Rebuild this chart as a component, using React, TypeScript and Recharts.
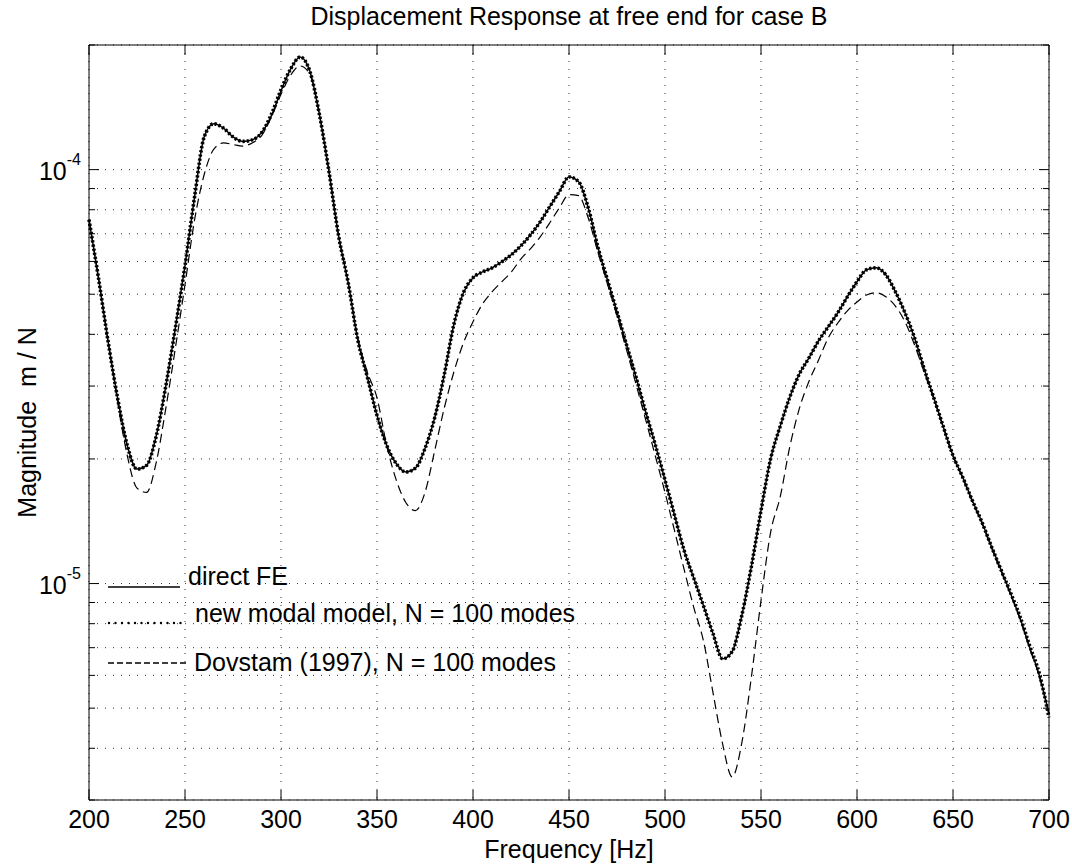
import { CartesianGrid, Legend, Line, LineChart, XAxis, YAxis } from 'recharts';

// frequency grid [Hz]
const freq = [
  200, 205, 210, 215, 220, 225, 230, 235, 240, 245, 250, 255, 260, 265, 270, 275, 280, 285, 290, 295,
  300, 305, 310, 315, 320, 325, 330, 335, 340, 345, 350, 355, 360, 365, 370, 375, 380, 385, 390, 395,
  400, 405, 410, 415, 420, 425, 430, 435, 440, 445, 450, 455, 460, 465, 470, 475, 480, 485, 490, 495,
  500, 505, 510, 515, 520, 525, 530, 535, 540, 545, 550, 555, 560, 565, 570, 575, 580, 585, 590, 595,
  600, 605, 610, 615, 620, 625, 630, 635, 640, 645, 650, 655, 660, 665, 670, 675, 680, 685, 690, 695,
  700,
];

// magnitude [m/N]
const directFE = [
  7.57e-5, 5.45e-5, 3.83e-5, 2.79e-5, 2.15e-5, 1.89e-5, 1.93e-5, 2.27e-5, 3.0e-5, 4.15e-5,
  5.86e-5, 8.6e-5, 1.2e-4, 1.29e-4, 1.26e-4, 1.2e-4, 1.17e-4, 1.18e-4, 1.23e-4, 1.35e-4,
  1.55e-4, 1.75e-4, 1.87e-4, 1.73e-4, 1.36e-4, 9.89e-5, 6.92e-5, 5.33e-5, 3.88e-5, 3.15e-5,
  2.55e-5, 2.16e-5, 1.95e-5, 1.86e-5, 1.9e-5, 2.12e-5, 2.51e-5, 3.19e-5, 4.22e-5, 5.04e-5,
  5.48e-5, 5.66e-5, 5.79e-5, 5.99e-5, 6.23e-5, 6.55e-5, 6.96e-5, 7.48e-5, 8.14e-5, 8.85e-5,
  9.6e-5, 9.35e-5, 8.09e-5, 6.51e-5, 5.42e-5, 4.53e-5, 3.77e-5, 3.14e-5, 2.59e-5, 2.16e-5,
  1.78e-5, 1.46e-5, 1.2e-5, 1.03e-5, 8.85e-6, 7.57e-6, 6.58e-6, 6.85e-6, 8.37e-6, 1.1e-5,
  1.5e-5, 2.0e-5, 2.4e-5, 2.82e-5, 3.21e-5, 3.51e-5, 3.86e-5, 4.17e-5, 4.51e-5, 4.93e-5,
  5.36e-5, 5.73e-5, 5.79e-5, 5.57e-5, 5.07e-5, 4.51e-5, 3.92e-5, 3.3e-5, 2.81e-5, 2.39e-5,
  2.04e-5, 1.81e-5, 1.59e-5, 1.41e-5, 1.23e-5, 1.08e-5, 9.46e-6, 8.23e-6, 7.0e-6, 5.99e-6,
  4.85e-6,
];

const modalModel = [
  7.57e-5, 5.45e-5, 3.83e-5, 2.79e-5, 2.15e-5, 1.89e-5, 1.93e-5, 2.27e-5, 3.0e-5, 4.15e-5,
  5.86e-5, 8.6e-5, 1.2e-4, 1.29e-4, 1.26e-4, 1.2e-4, 1.17e-4, 1.18e-4, 1.23e-4, 1.36e-4,
  1.56e-4, 1.75e-4, 1.87e-4, 1.73e-4, 1.36e-4, 9.89e-5, 6.92e-5, 5.33e-5, 3.88e-5, 3.15e-5,
  2.55e-5, 2.16e-5, 1.95e-5, 1.86e-5, 1.9e-5, 2.12e-5, 2.51e-5, 3.19e-5, 4.22e-5, 5.04e-5,
  5.48e-5, 5.66e-5, 5.79e-5, 5.99e-5, 6.23e-5, 6.55e-5, 6.96e-5, 7.48e-5, 8.14e-5, 8.85e-5,
  9.6e-5, 9.35e-5, 8.09e-5, 6.51e-5, 5.42e-5, 4.53e-5, 3.77e-5, 3.14e-5, 2.59e-5, 2.16e-5,
  1.78e-5, 1.46e-5, 1.2e-5, 1.03e-5, 8.85e-6, 7.57e-6, 6.58e-6, 6.85e-6, 8.37e-6, 1.1e-5,
  1.5e-5, 2.0e-5, 2.4e-5, 2.82e-5, 3.21e-5, 3.51e-5, 3.86e-5, 4.17e-5, 4.51e-5, 4.93e-5,
  5.36e-5, 5.73e-5, 5.79e-5, 5.57e-5, 5.07e-5, 4.51e-5, 3.92e-5, 3.3e-5, 2.81e-5, 2.39e-5,
  2.04e-5, 1.81e-5, 1.59e-5, 1.41e-5, 1.23e-5, 1.08e-5, 9.5e-6, 8.3e-6, 7.06e-6, 6.05e-6,
  4.75e-6,
];

const dovstam = [
  7.57e-5, 5.45e-5, 3.83e-5, 2.73e-5, 2.03e-5, 1.7e-5, 1.66e-5, 1.96e-5, 2.65e-5, 3.71e-5,
  5.27e-5, 7.57e-5, 9.73e-5, 1.12e-4, 1.16e-4, 1.15e-4, 1.14e-4, 1.16e-4, 1.21e-4, 1.34e-4,
  1.52e-4, 1.69e-4, 1.78e-4, 1.7e-4, 1.36e-4, 9.89e-5, 6.92e-5, 5.33e-5, 3.92e-5, 3.24e-5,
  2.81e-5, 2.16e-5, 1.78e-5, 1.57e-5, 1.5e-5, 1.66e-5, 2.09e-5, 2.65e-5, 3.24e-5, 3.81e-5,
  4.29e-5, 4.74e-5, 5.07e-5, 5.36e-5, 5.66e-5, 6.09e-5, 6.44e-5, 6.88e-5, 7.44e-5, 8.09e-5,
  8.7e-5, 8.65e-5, 7.65e-5, 6.33e-5, 5.3e-5, 4.43e-5, 3.67e-5, 3.02e-5, 2.48e-5, 2.03e-5,
  1.66e-5, 1.34e-5, 1.08e-5, 8.75e-6, 7.28e-6, 5.45e-6, 4.1e-6, 3.41e-6, 4.12e-6, 5.95e-6,
  9.1e-6, 1.33e-5, 1.62e-5, 2.14e-5, 2.65e-5, 3.08e-5, 3.47e-5, 3.92e-5, 4.26e-5, 4.56e-5,
  4.79e-5, 4.98e-5, 5.04e-5, 4.93e-5, 4.68e-5, 4.29e-5, 3.77e-5, 3.24e-5, 2.79e-5, 2.38e-5,
  2.03e-5, 1.8e-5, 1.58e-5, 1.4e-5, 1.22e-5, 1.07e-5, 9.4e-6, 8.18e-6, 6.96e-6, 5.95e-6,
  4.82e-6,
];

const xTicks = [200, 250, 300, 350, 400, 450, 500, 550, 600, 650, 700];
const yTicks = [
  3e-6, 4e-6, 5e-6, 6e-6, 7e-6, 8e-6, 9e-6, 1e-5, 2e-5, 3e-5, 4e-5, 5e-5, 6e-5, 7e-5, 8e-5,
  9e-5, 1e-4, 2e-4,
];

const seriesNames = ['direct FE', 'new modal model, N = 100 modes', 'Dovstam (1997), N = 100 modes'];

const FONT = '"Liberation Sans", Arial, Helvetica, sans-serif';
const DOTTED = '2.2 2';
const DASHED = '9 5';

const data = freq.map((f, i) => ({
  f,
  fe: directFE[i],
  modal: modalModel[i],
  dov: dovstam[i],
}));

const isDecade = (v: number) => Math.abs(Math.log10(v) - Math.round(Math.log10(v))) < 1e-6;

function BottomTick({ x, y, payload }: any) {
  return (
    <g>
      <line x1={x} x2={x} y1={y} y2={y - 10} stroke="#000" />
      <text x={x} y={y + 28} textAnchor="middle" fontSize={25} fontFamily={FONT} fill="#000">
        {payload.value}
      </text>
    </g>
  );
}

function TopTick({ x, y }: any) {
  return <line x1={x} x2={x} y1={y} y2={y + 10} stroke="#000" />;
}

function LeftTick({ x, y, payload }: any) {
  const major = isDecade(payload.value);
  const exp = Math.round(Math.log10(payload.value));
  return (
    <g>
      <line x1={x} x2={x + (major ? 10 : 6)} y1={y} y2={y} stroke="#000" />
      {major && (
        <text x={x - 8} y={y + 10} textAnchor="end" fontSize={25} fontFamily={FONT} fill="#000">
          10
          <tspan dy={-15} fontSize={16}>
            {exp}
          </tspan>
        </text>
      )}
    </g>
  );
}

function RightTick({ x, y, payload }: any) {
  const major = isDecade(payload.value);
  return <line x1={x} x2={x - (major ? 10 : 6)} y1={y} y2={y} stroke="#000" />;
}

function LegendBox() {
  const txt = { fontSize: 25, fontFamily: FONT, fill: '#000' };
  return (
    <svg width={560} height={140} style={{ display: 'block', overflow: 'visible' }}>
      <line x1={8} x2={80} y1={32} y2={32} stroke="#000" strokeWidth={1.3} />
      <text x={88} y={30} {...txt}>{seriesNames[0]}</text>
      <line x1={9} x2={87} y1={68} y2={68} stroke="#000" strokeWidth={2.4} strokeDasharray="0 6.5" strokeLinecap="round" />
      <text x={95} y={67} {...txt}>{seriesNames[1]}</text>
      <line x1={8} x2={88} y1={108} y2={108} stroke="#000" strokeWidth={1.3} strokeDasharray="6 3" />
      <text x={94} y={116} {...txt}>{seriesNames[2]}</text>
    </svg>
  );
}

export default function App() {
  return (
    <div style={{ position: 'absolute', left: 0, top: 0, width: 1072, height: 866, background: '#fff' }}>
      <LineChart width={1072} height={866} data={data} margin={{ top: 15, right: 3, bottom: 36, left: 29 }}>
        <CartesianGrid stroke="#333" strokeDasharray="1 7" />
        <XAxis
          dataKey="f"
          type="number"
          domain={[200, 700]}
          ticks={xTicks}
          interval={0}
          height={30}
          tickSize={0}
          tickMargin={0}
          tickLine={false}
          axisLine={{ stroke: '#000' }}
          tick={<BottomTick />}
          label={{
            content: ({ viewBox }: any) => (
              <text x={viewBox.x + viewBox.width / 2} y={viewBox.y + 58} textAnchor="middle" fontSize={25} fontFamily={FONT} fill="#000">
                Frequency [Hz]
              </text>
            ),
          }}
        />
        <XAxis
          xAxisId="top"
          orientation="top"
          dataKey="f"
          type="number"
          domain={[200, 700]}
          ticks={xTicks}
          interval={0}
          height={30}
          tickSize={0}
          tickMargin={0}
          tickLine={false}
          axisLine={{ stroke: '#000' }}
          tick={<TopTick />}
          label={{
            content: ({ viewBox }: any) => (
              <text x={viewBox.x + viewBox.width / 2} y={viewBox.y + viewBox.height - 20} textAnchor="middle" fontSize={25} fontFamily={FONT} fill="#000">
                Displacement Response at free end for case B
              </text>
            ),
          }}
        />
        <YAxis
          scale="log"
          type="number"
          domain={[3e-6, 2e-4]}
          allowDataOverflow
          ticks={yTicks}
          interval={0}
          width={60}
          tickSize={0}
          tickMargin={0}
          tickLine={false}
          axisLine={{ stroke: '#000' }}
          tick={<LeftTick />}
          label={{
            content: ({ viewBox }: any) => {
              const cy = viewBox.y + viewBox.height / 2;
              return (
                <text x={36} y={cy} transform={`rotate(-90, 36, ${cy})`} textAnchor="middle" fontSize={25} fontFamily={FONT} fill="#000" style={{ whiteSpace: 'pre' }}>
                  {'Magnitude  m / N'}
                </text>
              );
            },
          }}
        />
        <YAxis
          yAxisId="right"
          orientation="right"
          scale="log"
          type="number"
          domain={[3e-6, 2e-4]}
          allowDataOverflow
          ticks={yTicks}
          interval={0}
          width={20}
          tickSize={0}
          tickMargin={0}
          tickLine={false}
          axisLine={{ stroke: '#000' }}
          tick={<RightTick />}
        />
        <Legend
          layout="vertical"
          align="center"
          verticalAlign="middle"
          content={<LegendBox />}
          wrapperStyle={{ left: 100, top: 555, width: 560, height: 140 }}
        />
        <Line
          name={seriesNames[2]}
          type="monotone"
          dataKey="dov"
          stroke="#000"
          strokeWidth={1.2}
          strokeDasharray={DASHED}
          dot={false}
          activeDot={false}
          isAnimationActive={false}
        />
        <Line
          name={seriesNames[0]}
          type="monotone"
          dataKey="fe"
          stroke="#000"
          strokeWidth={1.5}
          dot={false}
          activeDot={false}
          isAnimationActive={false}
        />
        <Line
          name={seriesNames[1]}
          type="monotone"
          dataKey="modal"
          stroke="#000"
          strokeWidth={3.6}
          strokeDasharray={DOTTED}
          dot={false}
          activeDot={false}
          isAnimationActive={false}
        />
      </LineChart>
    </div>
  );
}
